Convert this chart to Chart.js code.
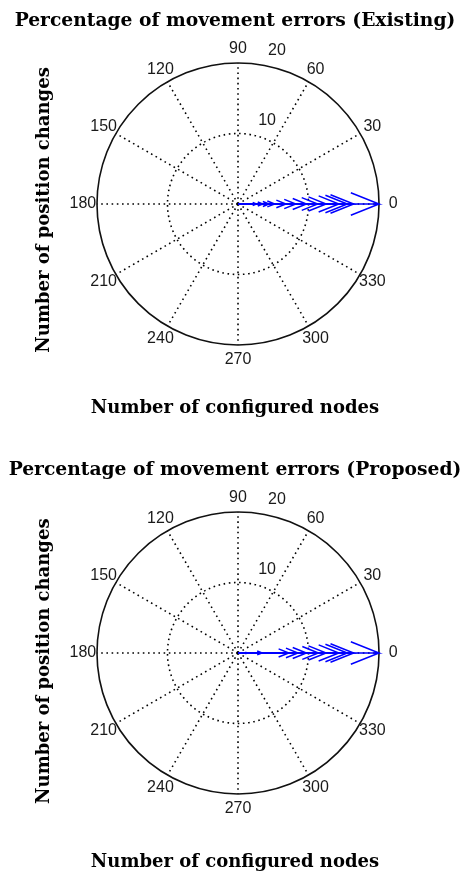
<!DOCTYPE html>
<html>
<head>
<meta charset="utf-8">
<script src="https://cdn.jsdelivr.net/npm/chart.js@4.4.1/dist/chart.umd.min.js"></script>
<style>
  html, body { margin: 0; padding: 0; background: #fff; }
  .plot { position: absolute; left: 0; width: 463px; }
  #existing { top: 0; height: 449px; }
  #proposed { top: 449px; height: 432px; }
</style>
</head>
<body>
<div class="plot" id="existing"><canvas id="chartExisting"></canvas></div>
<div class="plot" id="proposed"><canvas id="chartProposed"></canvas></div>
<script>
const Chart = window.Chart;

// arrow lengths, every arrow points along 0 deg
const EXISTING = [2.6, 3.5, 4.4, 5.2, 6.8, 8.2, 9.7, 11.3, 12.5, 14.3, 15.5, 16.4, 20];
const PROPOSED = [0.6, 1.3, 3.4, 7.2, 8.5, 9.7, 11.4, 12.5, 14.3, 15.5, 16.4, 20];
const ARROW_DIR = 0;

const RING_TICKS = [10, 20];
const SPOKE_ANGLES = [0, 30, 60, 90, 120, 150, 180, 210, 240, 270, 300, 330];
const ANGLE_LABELS = ['0', '30', '60', '90', '120', '150', '180', '210', '240', '270', '300', '330'];

const X_TITLE = 'Number of configured nodes';
const Y_TITLE = 'Number of position changes';

const SERIF = 'DejaVu Serif';
const SANS = 'Liberation Sans';
const INK = '#000';

const rad = d => d * Math.PI / 180;

// compass arrow: shaft, then two barbs back to 0.8r, spread 0.08r
function arrowPoints(r, deg) {
  const a = [0, 1, 0.8, 1, 0.8];
  const b = [0, 0, 0.08, 0, -0.08];
  const c = Math.cos(rad(deg)), s = Math.sin(rad(deg));
  return a.map((ai, i) => ({ x: r * (ai * c - b[i] * s), y: r * (ai * s + b[i] * c) }));
}

const polarGrid = {
  id: 'polarGrid',
  beforeDatasetsDraw(chart) {
    const { ctx, scales: { x, y } } = chart;
    const cx = x.getPixelForValue(0);
    const cy = y.getPixelForValue(0);
    const unit = x.getPixelForValue(1) - cx;
    const rmax = RING_TICKS[RING_TICKS.length - 1];
    const px = (r, d) => [x.getPixelForValue(r * Math.cos(rad(d))), y.getPixelForValue(r * Math.sin(rad(d)))];

    ctx.save();
    ctx.strokeStyle = '#000';
    ctx.lineWidth = 1.6;
    ctx.setLineDash([1.6, 3.6]);
    SPOKE_ANGLES.forEach(d => {
      const [ex, ey] = px(rmax, d);
      ctx.beginPath();
      ctx.moveTo(cx, cy);
      ctx.lineTo(ex, ey);
      ctx.stroke();
    });
    RING_TICKS.slice(0, -1).forEach(r => {
      ctx.beginPath();
      ctx.arc(cx, cy, r * unit, 0, Math.PI * 2);
      ctx.stroke();
    });
    ctx.setLineDash([]);
    ctx.lineWidth = 1.6;
    ctx.strokeStyle = '#111';
    ctx.beginPath();
    ctx.arc(cx, cy, rmax * unit, 0, Math.PI * 2);
    ctx.stroke();

    ctx.fillStyle = '#1a1a1a';
    ctx.font = '16px "' + SANS + '"';
    ctx.textAlign = 'center';
    ctx.textBaseline = 'middle';
    SPOKE_ANGLES.forEach((d, i) => {
      const [lx, ly] = px(rmax * 1.1, d);
      ctx.fillText(ANGLE_LABELS[i], lx, ly);
    });

    // ring labels sit just past each ring at 82 deg
    const rinc = RING_TICKS[0];
    ctx.textAlign = 'left';
    ctx.textBaseline = 'bottom';
    RING_TICKS.forEach(r => {
      const [lx, ly] = px(r + rinc / 20, 82);
      ctx.fillText('  ' + r, lx + 1, ly - 2);
    });
    ctx.restore();
  },
};

const serifBold = (size, lineHeight) => ({ family: SERIF, size, weight: 'bold', lineHeight });

function makeCompass(canvasId, title, mags, yMin, padBottom, xTitleTop) {
  const datasets = mags.map(r => ({
    data: arrowPoints(r, ARROW_DIR),
    showLine: true,
    borderColor: '#0000ff',
    borderWidth: 1.5,
    pointRadius: 0,
    tension: 0,
    fill: false,
    clip: false,
  }));

  return new Chart(document.getElementById(canvasId), {
    type: 'scatter',
    data: { datasets },
    options: {
      responsive: true,
      maintainAspectRatio: false,
      animation: false,
      events: [],
      layout: { padding: { left: 7, right: 0, top: 0, bottom: padBottom } },
      plugins: {
        legend: { display: false },
        tooltip: { enabled: false },
        title: {
          display: true,
          text: title,
          color: INK,
          font: serifBold(18.7, 1.1),
          padding: { top: 10.7, bottom: 0.3 },
        },
        // x axis caption, centred on the whole figure like the title
        subtitle: {
          display: true,
          position: 'bottom',
          text: X_TITLE,
          color: INK,
          font: serifBold(18, 1.2),
          padding: { top: xTitleTop, bottom: 0 },
        },
      },
      scales: {
        x: {
          type: 'linear',
          display: false,
          min: -25.53,
          max: 31.91,
        },
        y: {
          type: 'linear',
          min: yMin,
          max: 24.45,
          grid: { display: false, drawTicks: false },
          border: { display: false },
          ticks: { display: false },
          title: {
            display: true,
            text: Y_TITLE,
            color: INK,
            font: serifBold(18, 1.2),
            padding: { top: 26.7, bottom: 2.7 },
          },
        },
      },
    },
    plugins: [polarGrid],
  });
}

makeCompass('chartExisting', 'Percentage of movement errors (Existing)', EXISTING, -26.14, 30.2, 8.9);
makeCompass('chartProposed', 'Percentage of movement errors (Proposed)', PROPOSED, -26.78, 8.2, 9.4);
</script>
</body>
</html>
